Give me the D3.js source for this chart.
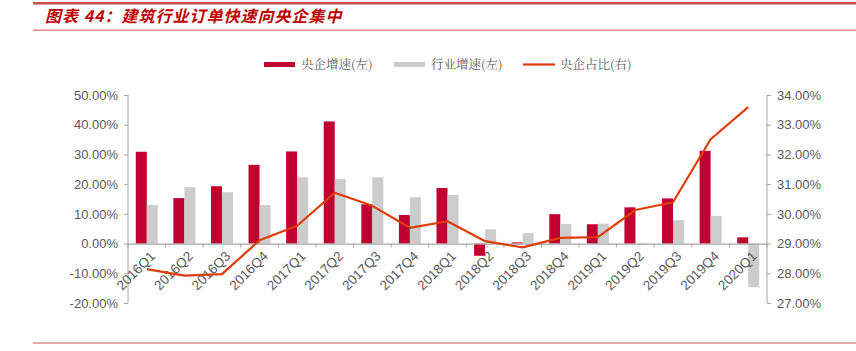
<!DOCTYPE html>
<html>
<head>
<meta charset="utf-8">
<script src="https://cdn.jsdelivr.net/npm/d3@7"></script>
<style>
  body { margin: 0; background: #fff; }
  svg { display: block; }
</style>
</head>
<body>
<div id="chart"></div>
<script>
// 数据
const quarters = ["2016Q1","2016Q2","2016Q3","2016Q4","2017Q1","2017Q2","2017Q3","2017Q4",
  "2018Q1","2018Q2","2018Q3","2018Q4","2019Q1","2019Q2","2019Q3","2019Q4","2020Q1"];
const soeGrowth = [30.9, 15.3, 19.3, 26.5, 31.0, 41.1, 13.2, 9.6, 18.7, -4.1, 0.4, 9.9, 6.5, 12.2, 15.2, 31.2, 2.1];
const industryGrowth = [13.0, 19.0, 17.3, 13.0, 22.3, 21.7, 22.3, 15.6, 16.4, 4.8, 3.5, 6.6, 6.7, -0.5, 7.9, 9.3, -14.7];
const soeShare = [28.14, 27.92, 27.97, 29.11, 29.60, 30.71, 30.27, 29.53, 29.75, 29.08, 28.87, 29.19, 29.22, 30.13, 30.39, 32.51, 33.59];
const leftTicks = [-20, -10, 0, 10, 20, 30, 40, 50];
const rightTicks = [27, 28, 29, 30, 31, 32, 33, 34];
const seriesNames = ["央企增速(左)", "行业增速(左)", "央企占比(右)"];

const W = 856, H = 351;
const margin = { top: 95, right: 89, bottom: 48, left: 128 };
const width = W - margin.left - margin.right,
      height = H - margin.top - margin.bottom;

const red = "#c00030", grey = "#cccccc", orange = "#e03c08", axisCol = "#a6a6a6", txtCol = "#595959";

const svg = d3.select("#chart").append("svg")
  .attr("width", W)
  .attr("height", H);

// 标题与装饰线
svg.append("rect").attr("x", 33).attr("y", 2).attr("width", W - 33).attr("height", 2.5).attr("fill", "#c9504f");
svg.append("rect").attr("x", 33).attr("y", 29.5).attr("width", W - 33).attr("height", 1.2).attr("fill", "#e07470");
svg.append("text")
  .attr("x", 45).attr("y", 22)
  .style("font-family", "'Noto Sans CJK SC', sans-serif")
  .style("font-size", "16px")
  .style("letter-spacing", "1px")
  .style("font-weight", "bold")
  .style("font-style", "italic")
  .attr("fill", "#c00000")
  .text("图表 44：建筑行业订单快速向央企集中");
svg.append("rect").attr("x", 33).attr("y", 342).attr("width", W - 33).attr("height", 2).attr("fill", "#e3aaaa");

const g = svg.append("g").attr("transform", `translate(${margin.left},${margin.top})`);

const x = d3.scaleBand().domain(quarters).range([0, width]);
const x1 = d3.scaleBand().domain([0, 1]).range([x.bandwidth() / 2 - 11, x.bandwidth() / 2 + 11]);
const yL = d3.scaleLinear().domain([-20, 50]).range([height, 0]);
const yR = d3.scaleLinear().domain([27, 34]).range([height, 0]);

// 柱子
const groups = g.selectAll(".grp")
  .data(quarters)
  .enter().append("g")
  .attr("transform", d => `translate(${x(d)},0)`);

groups.append("rect")
  .attr("x", x1(0))
  .attr("width", x1.bandwidth())
  .attr("y", (d, i) => yL(Math.max(0, soeGrowth[i])))
  .attr("height", (d, i) => Math.abs(yL(soeGrowth[i]) - yL(0)))
  .attr("fill", red);

groups.append("rect")
  .attr("x", x1(1))
  .attr("width", x1.bandwidth())
  .attr("y", (d, i) => yL(Math.max(0, industryGrowth[i])))
  .attr("height", (d, i) => Math.abs(yL(industryGrowth[i]) - yL(0)))
  .attr("fill", grey);

// 左轴
const leftAxis = g.append("g")
  .call(d3.axisLeft(yL).tickValues(leftTicks).tickFormat(d => d.toFixed(2) + "%").tickSize(4).tickPadding(6));
// 右轴
const rightAxis = g.append("g")
  .attr("transform", `translate(${width},0)`)
  .call(d3.axisRight(yR).tickValues(rightTicks).tickFormat(d => d.toFixed(2) + "%").tickSize(4).tickPadding(6));

[leftAxis, rightAxis].forEach(a => {
  a.select(".domain").attr("stroke", axisCol).attr("d", `M0,0V${height}`);
  a.selectAll(".tick line").attr("stroke", axisCol);
  a.selectAll("text")
    .attr("fill", txtCol)
    .style("font-family", "'Liberation Sans', Arial, sans-serif")
    .style("font-size", "13px");
});

// X 轴（0 位置）
const xAxis = g.append("g")
  .attr("transform", `translate(0,${yL(0)})`)
  .call(d3.axisBottom(x).tickSize(0).tickPadding(0));
xAxis.select(".domain").attr("stroke", axisCol).attr("stroke-width", 1.2);
xAxis.selectAll(".tick text")
  .attr("fill", txtCol)
  .style("font-family", "'Liberation Sans', Arial, sans-serif")
  .style("font-size", "13.5px")
  .attr("text-anchor", "end")
  .attr("dy", "0.35em")
  .attr("transform", "translate(6,10) rotate(-45)");
// 刻度线在组的边界
g.append("g").selectAll("line")
  .data(d3.range(quarters.length + 1))
  .enter().append("line")
  .attr("x1", i => i * x.step()).attr("x2", i => i * x.step())
  .attr("y1", yL(0)).attr("y2", yL(0) + 4)
  .attr("stroke", axisCol);

// 折线
const line = d3.line()
  .x((d, i) => x(quarters[i]) + x.bandwidth() / 2)
  .y(d => yR(d));
g.append("path")
  .datum(soeShare)
  .attr("fill", "none")
  .attr("stroke", orange)
  .attr("stroke-width", 2.2)
  .attr("stroke-linejoin", "round")
  .attr("d", line);

// 图例
const legend = svg.append("g").attr("transform", "translate(264,0)");
const legItems = [
  { name: seriesNames[0], x: 0, type: "rect", color: red },
  { name: seriesNames[1], x: 130, type: "rect", color: grey },
  { name: seriesNames[2], x: 259, type: "line", color: orange }
];
legItems.forEach(it => {
  if (it.type === "rect") {
    legend.append("rect").attr("x", it.x).attr("y", 62).attr("width", 31).attr("height", 5).attr("fill", it.color);
  } else {
    legend.append("line").attr("x1", it.x).attr("x2", it.x + 32).attr("y1", 64.5).attr("y2", 64.5)
      .attr("stroke", it.color).attr("stroke-width", 2.2);
  }
  legend.append("text")
    .attr("x", it.x + 37).attr("y", 69)
    .style("font-family", "'Noto Serif CJK SC', 'Noto Sans CJK SC', serif")
    .style("font-size", "12.5px")
    .attr("fill", txtCol)
    .text(it.name);
});
</script>
</body>
</html>
